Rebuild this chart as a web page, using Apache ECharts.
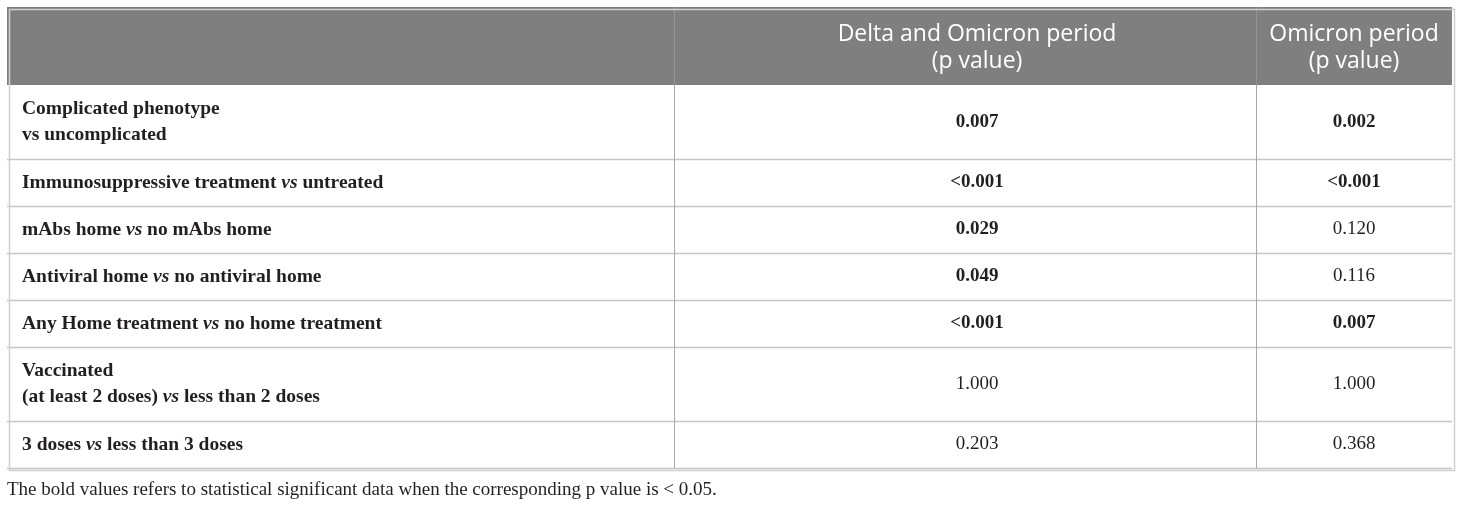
<!DOCTYPE html>
<html>
<head>
    <meta charset="utf-8">
    <title>p values table</title>
    <script src="https://cdn.jsdelivr.net/npm/echarts@6/dist/echarts.min.js"></script>
    <style>
        html, body { margin: 0; padding: 0; background: #fff; }
    </style>
</head>
<body>
<div id="main" style="width: 1460px;height:505px"></div>
<script type="text/javascript">

    // column headers
    var headers = ['', 'Delta and Omicron period\n(p value)', 'Omicron period\n(p value)'];

    // row labels, {i|..} marks the italic "vs"
    var factors = [
        'Complicated phenotype\nvs uncomplicated',
        'Immunosuppressive treatment {i|vs} untreated',
        'mAbs home {i|vs} no mAbs home',
        'Antiviral home {i|vs} no antiviral home',
        'Any Home treatment {i|vs} no home treatment',
        'Vaccinated\n(at least 2 doses) {i|vs} less than 2 doses',
        '3 doses {i|vs} less than 3 doses'
    ];

    var pDeltaOmicron = ['0.007', '<0.001', '0.029', '0.049', '<0.001', '1.000', '0.203'];
    var pOmicron = ['0.002', '<0.001', '0.120', '0.116', '0.007', '1.000', '0.368'];

    var footnote = 'The bold values refers to statistical significant data when the corresponding p value is < 0.05.';

    // layout (px units on the hidden axes)
    var colEdges = [0, 667, 1249, 1445];
    var colShift = [0, 12, 0];   // text centre offset per column
    var headerH = 78, lineH = 27, rowPad = 20;

    var rowTops = [0, headerH];
    factors.forEach(function (f) {
        var n = f.split('\n').length;
        rowTops.push(rowTops[rowTops.length - 1] + rowPad + n * lineH);
    });
    var totalH = rowTops[rowTops.length - 1];

    var serif = '"Liberation Serif", "Times New Roman", serif';
    var sans = '"Open Sans", "Noto Sans", sans-serif';
    var ink = '#231f20';

    function isSig(p) {
        return parseFloat(p.replace('<', '')) < 0.05;
    }

    var myChart = echarts.init(document.getElementById('main'));

    function renderItem(params, api) {
        var r = api.value(0);
        var top = rowTops[r], bottom = rowTops[r + 1];
        var children = [];
        var p0 = api.coord([colEdges[0], top]);
        var p1 = api.coord([colEdges[3], bottom]);
        var yMid = (p0[1] + p1[1]) / 2;

        if (r === 0) {
            children.push({
                type: 'rect',
                shape: {x: p0[0], y: p0[1], width: p1[0] - p0[0], height: p1[1] - p0[1]},
                style: {fill: '#7f7f7f'}
            });
            for (var c = 1; c < 3; c++) {
                var a = api.coord([colEdges[c], 0])[0];
                var b = api.coord([colEdges[c + 1], 0])[0];
                children.push({
                    type: 'line',
                    shape: {x1: a + 0.5, y1: p0[1], x2: a + 0.5, y2: p1[1]},
                    style: {stroke: '#939393', lineWidth: 1}
                });
                children.push({
                    type: 'text',
                    style: {
                        text: headers[c], x: (a + b) / 2 + colShift[c], y: yMid + 2,
                        align: 'center', verticalAlign: 'middle',
                        fontFamily: sans, fontSize: 23, lineHeight: 27, fill: '#fff'
                    }
                });
            }
            return {type: 'group', children: children};
        }

        var i = r - 1;
        // row separator
        children.push({
            type: 'line',
            shape: {x1: p0[0], y1: p1[1] + 0.5, x2: p1[0], y2: p1[1] + 0.5},
            style: {stroke: '#c6c6c6', lineWidth: 1.5}
        });
        for (var c2 = 1; c2 < 3; c2++) {
            var x = api.coord([colEdges[c2], 0])[0];
            children.push({
                type: 'line',
                shape: {x1: x + 0.5, y1: p0[1], x2: x + 0.5, y2: p1[1]},
                style: {stroke: '#a8a8a8', lineWidth: 1}
            });
        }
        children.push({
            type: 'text',
            style: {
                text: factors[i], x: p0[0] + 15, y: yMid,
                align: 'left', verticalAlign: 'middle',
                fontFamily: serif, fontSize: 19.5, fontWeight: 'bold', lineHeight: 26, fill: ink,
                rich: {
                    i: {fontFamily: serif, fontSize: 19.5, fontWeight: 'bold', fontStyle: 'italic', fill: ink}
                }
            }
        });
        [pDeltaOmicron[i], pOmicron[i]].forEach(function (p, k) {
            var a2 = api.coord([colEdges[k + 1], 0])[0];
            var b2 = api.coord([colEdges[k + 2], 0])[0];
            children.push({
                type: 'text',
                style: {
                    text: p, x: (a2 + b2) / 2 + colShift[k + 1], y: yMid,
                    align: 'center', verticalAlign: 'middle',
                    fontFamily: serif, fontSize: 19, fontWeight: isSig(p) ? 'bold' : 'normal', fill: ink
                }
            });
        });
        return {type: 'group', children: children};
    }

    var rows = [];
    for (var r = 0; r <= factors.length; r++) rows.push([r]);

    myChart.setOption({
        animation: false,
        title: {
            text: footnote,
            left: 2,
            top: 476,
            textStyle: {fontFamily: serif, fontSize: 19, fontWeight: 'normal', color: ink}
        },
        grid: {left: 7, right: 8, top: 7, height: totalH},
        xAxis: {type: 'value', min: 0, max: colEdges[3], show: false},
        yAxis: {type: 'value', min: 0, max: totalH, inverse: true, show: false},
        series: [{
            type: 'custom',
            renderItem: renderItem,
            data: rows,
            clip: false
        }],
        graphic: [{
            type: 'rect',
            left: 7, top: 7,
            shape: {width: colEdges[3], height: totalH},
            style: {fill: 'none', stroke: '#cfcfcf', lineWidth: 1.5},
            z: 10
        }]
    });
</script>
</body>
</html>
